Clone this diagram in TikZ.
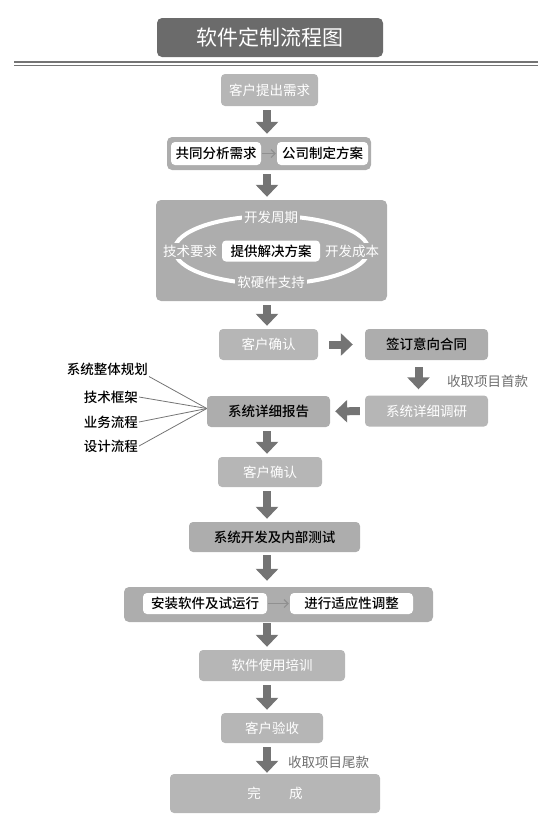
\documentclass[tikz,border=0pt]{standalone}
\usepackage{fontspec}
\setmainfont{Noto Sans CJK SC}[BoldFont={Noto Sans CJK SC Medium}]
\usepackage{xcolor}
\usetikzlibrary{arrows,arrows.meta}

\definecolor{titlegray}{HTML}{6B6B6B}
\definecolor{paleGray}{HTML}{B6B6B6}
\definecolor{boxGray}{HTML}{ADADAD}
\definecolor{arrowGray}{HTML}{747474}
\definecolor{noteGray}{HTML}{6E6E6E}

\tikzset{
  palebox/.style={fill=paleGray, rounded corners=4pt, inner sep=0pt, text=white,
    font=\fontsize{13.5}{16}\selectfont},
  boldbox/.style={fill=boxGray, rounded corners=4pt, inner sep=0pt, text=black,
    font=\fontsize{13.5}{16}\selectfont\bfseries},
  whitebox/.style={fill=white, rounded corners=4pt, inner sep=0pt, text=black,
    font=\fontsize{13.5}{16}\selectfont\bfseries},
  groupbox/.style={fill=boxGray, rounded corners=5pt, inner sep=0pt},
  ringlabel/.style={fill=boxGray, text=white, inner sep=2pt,
    font=\fontsize{13.5}{16}\selectfont},
  listlabel/.style={anchor=east, inner sep=1pt, font=\fontsize{13.5}{16}\selectfont\bfseries},
  notelabel/.style={anchor=west, inner sep=0pt, text=noteGray, font=\fontsize{13.5}{16}\selectfont},
  fatarrow/.style={draw=arrowGray, line width=8pt,
    -{Triangle[width=22pt,length=12pt]}, shorten <=4pt, shorten >=3pt},
  slimarrow/.style={draw=arrowGray!80, line width=1.1pt, -{Straight Barb[length=4pt,width=8pt]},
    shorten <=1pt, shorten >=1pt},
  listline/.style={draw=arrowGray, line width=0.8pt}
}

\begin{document}
\begin{tikzpicture}[x=1pt,y=-1pt]
		\useasboundingbox (0,0) rectangle (551,833);
		% заголовок
		\node [fill=titlegray, rounded corners=5pt, minimum width=226, minimum height=39, inner sep=0pt,
		  text=white, font=\fontsize{21}{24}\selectfont] (title) at (270,37.5) {软件定制流程图};
		\draw [line width=2.6pt, arrowGray] (14,62) -- (538,62);
		\draw [line width=0.9pt, arrowGray] (14,65.6) -- (538,65.6);
		\coordinate (axis) at (267,0);
		% блоки
		\node [palebox, minimum width=97, minimum height=32] (req) at (269.5,90) {客户提出需求};
		\node [groupbox, minimum width=204, minimum height=33] (grp1) at (269,153.5) {};
		\node [whitebox, minimum width=90, minimum height=23] (ana) at (216,153.5) {共同分析需求};
		\node [whitebox, minimum width=91, minimum height=23] (scheme) at (322.5,153.5) {公司制定方案};
		\node [groupbox, minimum width=231, minimum height=101] (big) at (271.5,250.5) {};
		\draw [white, line width=4pt] (271.5,250) ellipse [x radius=97, y radius=34];
		\node [ringlabel] (cycle) at (271,217) {开发周期};
		\node [ringlabel] (tech) at (190,251) {技术要求};
		\node [ringlabel] (cost) at (352,251) {开发成本};
		\node [ringlabel] (hard) at (271,282) {软硬件支持};
		\node [whitebox, minimum width=98, minimum height=21] (sol) at (271,251) {提供解决方案};
		\node [palebox, minimum width=99, minimum height=31] (ok1) at (268.5,344.5) {客户确认};
		\node [boldbox, minimum width=123, minimum height=31] (sign) at (426.5,344.5) {签订意向合同};
		\node [palebox, minimum width=123, minimum height=31] (survey) at (426.5,411) {系统详细调研};
		\node [boldbox, minimum width=123, minimum height=31] (report) at (268.5,411.5) {系统详细报告};
		\node [palebox, minimum width=104, minimum height=30] (ok2) at (270,472) {客户确认};
		\node [boldbox, minimum width=171, minimum height=30] (dev) at (274.5,537) {系统开发及内部测试};
		\node [groupbox, minimum width=309, minimum height=35] (grp2) at (278.5,604.5) {};
		\node [whitebox, minimum width=124, minimum height=21] (inst) at (205,603.5) {安装软件及试运行};
		\node [whitebox, minimum width=123, minimum height=21] (adj) at (351.5,603.5) {进行适应性调整};
		\node [palebox, minimum width=146, minimum height=31] (train) at (272,665.5) {软件使用培训};
		\node [palebox, minimum width=102, minimum height=30] (accept) at (272,728) {客户验收};
		\node [palebox, minimum width=210, minimum height=39] (done) at (275,793.5) {完\hspace{2.1em}成};
		% подписи
		\node [listlabel] (lst1) at (149,369) {系统整体规划};
		\node [listlabel] (lst2) at (139,397) {技术框架};
		\node [listlabel] (lst3) at (139,422) {业务流程};
		\node [listlabel] (lst4) at (139,446) {设计流程};
		\node [notelabel] (pay1) at (447,381) {收取项目首款};
		\node [notelabel] (pay2) at (288,762) {收取项目尾款};
		% стрелки
		\draw [fatarrow] (req.south -| axis) -- (grp1.north -| axis);
		\draw [fatarrow] (grp1.south -| axis) -- (big.north -| axis);
		\draw [fatarrow] (big.south -| axis) -- (ok1.north -| axis);
		\draw [fatarrow, shorten <=11pt, shorten >=12pt] (ok1) -- (sign);
		\draw [fatarrow, shorten <=7pt, shorten >=6pt] ([xshift=-8pt]sign.south) -- ([xshift=-8pt]survey.north);
		\draw [fatarrow, shorten <=5pt, shorten >=5pt] (survey) -- (report);
		\draw [fatarrow] (report.south -| axis) -- (ok2.north -| axis);
		\draw [fatarrow] (ok2.south -| axis) -- (dev.north -| axis);
		\draw [fatarrow, shorten <=3pt, shorten >=6pt] (dev.south -| axis) -- (grp2.north -| axis);
		\draw [fatarrow, shorten <=1pt] (grp2.south -| axis) -- (train.north -| axis);
		\draw [fatarrow] (train.south -| axis) -- (accept.north -| axis);
		\draw [fatarrow, shorten >=1pt] (accept.south -| axis) -- (done.north -| axis);
		\draw [slimarrow] (ana) -- (scheme);
		\draw [slimarrow] (inst) -- (adj);
		% линии
		\draw [listline] (lst1.south east) -- ([yshift=3pt]report.west);
		\draw [listline] (lst2.east) -- ([yshift=3pt]report.west);
		\draw [listline] (lst3.east) -- ([yshift=3pt]report.west);
		\draw [listline] (lst4.east) -- ([yshift=3pt]report.west);
\end{tikzpicture}
\end{document}
